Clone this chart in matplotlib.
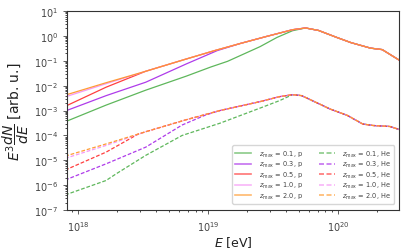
import matplotlib
matplotlib.use("Agg")
import matplotlib.pyplot as plt
import numpy as np

plt.rcParams['mathtext.fontset'] = 'dejavusans'
plt.rcParams['font.size'] = 7

zmax = ["0.1", "0.3", "0.5", "1.0", "2.0"]
colors = ["#4daf4a", "#a626e8", "#ff2a2a", "#f58ef5", "#ff931f"]

# shared high-energy tails (log10 E, log10 E^3 dN/dE)
p_tail_logE = [19.75, 19.85, 19.99, 20.1, 20.25, 20.34, 20.47]
p_tail_logy = [0.32, 0.22, -0.06, -0.27, -0.49, -0.55, -0.97]
he_tail_logE = [19.65, 19.72, 19.94, 20.07, 20.19, 20.27, 20.4, 20.47]
he_tail_logy = [-2.36, -2.40, -2.94, -3.19, -3.54, -3.60, -3.64, -3.76]

# protons, below the peak
p_logE = [
    [17.9, 18.215, 18.52, 18.83, 19.02, 19.15, 19.4, 19.53, 19.65],   # 0.1
    [17.9, 18.215, 18.52, 18.83, 19.07, 19.25, 19.45, 19.65],         # 0.3
    [17.9, 18.215, 18.52, 18.83, 19.05, 19.25, 19.45, 19.65],         # 0.5
    [17.9, 18.215, 18.52, 18.83, 19.05, 19.25, 19.45, 19.65],         # 1.0
    [17.9, 18.215, 18.52, 18.83, 19.05, 19.25, 19.45, 19.65],         # 2.0
]
p_logy = [
    [-3.45, -2.78, -2.18, -1.62, -1.25, -1.02, -0.43, -0.06, 0.21],
    [-3.02, -2.40, -1.86, -1.13, -0.59, -0.30, -0.02, 0.25],
    [-2.83, -2.06, -1.42, -0.93, -0.59, -0.30, -0.02, 0.25],
    [-2.45, -1.92, -1.42, -0.93, -0.59, -0.30, -0.02, 0.25],
    [-2.38, -1.88, -1.42, -0.93, -0.59, -0.30, -0.02, 0.25],
]

# helium, below the peak
he_logE = [
    [17.9, 18.215, 18.29, 18.52, 18.8, 19.09, 19.4, 19.55],
    [17.9, 18.215, 18.52, 18.8, 18.98, 19.09, 19.4, 19.55],
    [17.9, 18.215, 18.46, 18.52, 18.83, 19.09, 19.4, 19.55],
    [17.9, 18.215, 18.52, 18.83, 19.09, 19.4, 19.55],
    [17.9, 18.215, 18.52, 18.83, 19.09, 19.4, 19.55],
]
he_logy = [
    [-6.39, -5.81, -5.55, -4.80, -4.00, -3.51, -2.90, -2.60],
    [-5.79, -5.14, -4.47, -3.58, -3.18, -3.00, -2.64, -2.44],
    [-5.39, -4.67, -3.95, -3.85, -3.37, -3.00, -2.64, -2.44],
    [-4.92, -4.40, -3.85, -3.37, -3.00, -2.64, -2.44],
    [-4.83, -4.34, -3.85, -3.37, -3.00, -2.64, -2.44],
]

fig = plt.figure(figsize=(4.11, 2.51), dpi=100)
ax = fig.add_axes([0.163, 0.159, 0.808, 0.793])

for i, z in enumerate(zmax):
    x = 10 ** np.array(p_logE[i] + p_tail_logE)
    y = 10 ** np.array(p_logy[i] + p_tail_logy)
    ax.plot(x, y, color=colors[i], lw=0.9, alpha=0.9,
            label=r"$z_{\rm max}$ = %s, p" % z)
for i, z in enumerate(zmax):
    x = 10 ** np.array(he_logE[i] + he_tail_logE)
    y = 10 ** np.array(he_logy[i] + he_tail_logy)
    ax.plot(x, y, color=colors[i], lw=0.9, alpha=0.9, ls=(0, (3, 1.5)),
            label=r"$z_{\rm max}$ = %s, He" % z)

ax.set_xscale("log")
ax.set_yscale("log")
ax.set_xlim(8.2e17, 2.95e20)
ax.set_ylim(1e-7, 1e1)
ax.set_yticks(10.0 ** np.arange(-7, 2))
ax.set_xlabel(r"$E$ [eV]", fontsize=9, labelpad=1, color="#222222")
ax.set_ylabel(r"$E^3\dfrac{dN}{dE}$ [arb. u.]", fontsize=10, labelpad=2,
              color="#222222")
ax.tick_params(labelsize=7, colors="#444444", length=3, width=0.6)
ax.tick_params(which="minor", length=1.5, width=0.5)
for s in ax.spines.values():
    s.set_color("#333333")

leg = ax.legend(ncol=2, loc="lower right", fontsize=4.8, frameon=True,
                handlelength=2.4, handletextpad=1.1, columnspacing=2.4,
                labelspacing=0.05, borderpad=0.45,
                bbox_to_anchor=(0.995, 0.015))
for line in leg.get_lines():
    line.set_linewidth(1.2)
    line.set_alpha(0.65)
for t in leg.get_texts():
    t.set_color("#444444")

fig.savefig("out.png", dpi=100)
